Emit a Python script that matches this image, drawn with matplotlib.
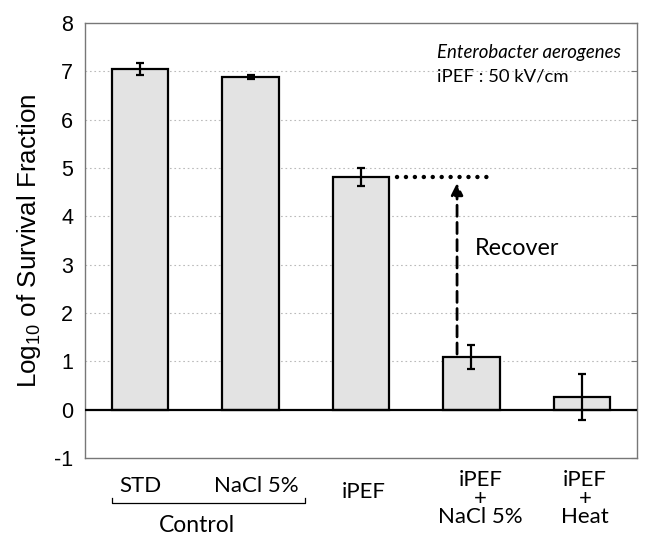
import matplotlib
matplotlib.use("Agg")
import matplotlib.pyplot as plt
from matplotlib.transforms import blended_transform_factory

plt.rcParams['mathtext.fontset'] = 'custom'
plt.rcParams['mathtext.rm'] = 'Liberation Sans'
plt.rcParams['mathtext.it'] = 'Liberation Sans:italic'

categories = ["STD", "NaCl 5%", "iPEF", "iPEF\n+\nNaCl 5%", "iPEF\n+\nHeat"]
means = [7.05, 6.89, 4.81, 1.09, 0.26]
errors = [0.12, 0.04, 0.19, 0.25, 0.48]
yticks = [-1, 0, 1, 2, 3, 4, 5, 6, 7, 8]

W, H = 652, 538
fig = plt.figure(figsize=(W / 100, H / 100), dpi=100)
ax = fig.add_axes([85 / W, 80 / H, (637 - 85) / W, (458 - 23) / H])

x = list(range(len(categories)))
ax.bar(x, means, width=0.51, color='#e3e3e3', edgecolor='black', linewidth=1.6, zorder=3)
ax.errorbar(x, means, yerr=errors, fmt='none', ecolor='black', elinewidth=1.6,
            capsize=2.8, capthick=1.6, zorder=4)

ax.set_xlim(-0.5, 4.5)
ax.set_ylim(-1, 8)
ax.set_yticks(yticks)
ax.set_yticklabels([str(t) for t in yticks], fontsize=15.5, family='Liberation Sans')
ax.set_xticks([])
ax.tick_params(axis='y', left=False, right=True, direction='in', length=4,
               color='#777777', pad=8.5)
for s in ax.spines.values():
    s.set_color('#777777')
    s.set_linewidth(1.0)

for t in yticks[2:-1]:
    ax.axhline(t, color='#bbbbbb', linestyle=(0, (1.5, 2.5)), linewidth=0.8, zorder=1)
ax.axhline(0, color='black', linewidth=1.6, zorder=5)

ax.set_ylabel(r'Log$_{\mathrm{10}}$ of Survival Fraction', fontsize=18.7,
              family='Liberation Sans', labelpad=8)

# recover annotation
ax.plot([2.33, 3.2], [means[2], means[2]], linestyle=(0, (0.01, 2.0)), color='black',
        linewidth=3.2, dash_capstyle='round', solid_capstyle='round', zorder=5)
ax.annotate('', xy=(2.87, 4.69), xytext=(2.87, 1.15),
            arrowprops=dict(arrowstyle='-|>,head_width=0.35,head_length=0.7',
                            color='black', linewidth=2, linestyle=(0, (4, 2.2)),
                            shrinkA=0, shrinkB=0), zorder=5)

def fy(py):
    return 1 - py / H

trans = blended_transform_factory(ax.transData, fig.transFigure)
ax.text(3.03, fy(255), 'Recover', transform=trans, fontsize=16.8, family='Lato',
        ha='left', va='baseline')

ax.text(2.69, fy(58), 'Enterobacter aerogenes', transform=trans, fontsize=13.4,
        family='Lato', style='italic', ha='left', va='baseline')
ax.text(2.69, fy(81.7), 'iPEF : 50 kV/cm', transform=trans, fontsize=13.3,
        family='Lato', ha='left', va='baseline')

# category labels (last-line baselines)
label_x = [0.0, 1.05, 2.02, 3.08, 4.03]
label_base = [491.7, 491.7, 498, 523, 523]
for xi, yb, lab in zip(label_x, label_base, categories):
    ax.text(xi, fy(yb), lab, transform=trans, fontsize=16, family='Lato',
            ha='center', va='baseline', linespacing=0.9)

# control bracket
ax.plot([-0.255, -0.255, 1.49, 1.49], [fy(498), fy(503), fy(503), fy(498)],
        transform=trans, color='black', linewidth=0.9, clip_on=False)
ax.text(0.515, fy(531.7), 'Control', transform=trans, fontsize=16.5, family='Lato',
        ha='center', va='baseline')

fig.savefig('out.png', dpi=100)
